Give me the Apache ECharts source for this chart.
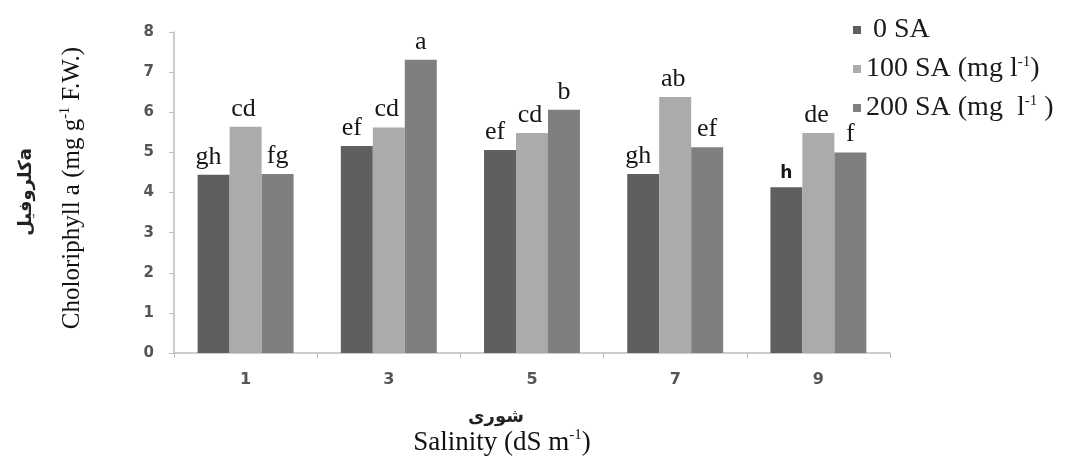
<!DOCTYPE html>
<html>
<head>
<meta charset="utf-8">
<script src="https://cdn.jsdelivr.net/npm/echarts@6/dist/echarts.min.js"></script>
<style>html,body{margin:0;padding:0;background:#fff}#c{width:1076px;height:468px}</style>
</head>
<body>
<div id="c"></div>
<script>
const categories = ['1', '3', '5', '7', '9'];
const seriesNames = ['0 SA', '100 SA (mg l-1)', '200 SA (mg  l-1 )'];
const sa0 = [4.44, 5.16, 5.06, 4.46, 4.13];
const sa100 = [5.64, 5.62, 5.48, 6.38, 5.48];
const sa200 = [4.46, 7.31, 6.06, 5.13, 5.00];
const letters0 = ['gh', 'ef', 'ef', 'gh', 'h'];
const letters100 = ['cd', 'cd', 'cd', 'ab', 'de'];
const letters200 = ['fg', 'a', 'b', 'ef', 'f'];
const yTicks = [0, 1, 2, 3, 4, 5, 6, 7, 8];

const colors = ['#5f5f5f', '#ababab', '#7f7f7f'];
const serif = '"Liberation Serif", "Times New Roman", serif';

function mk(name, vals, letters, color, dx) {
  return {
    name: name, type: 'bar', barGap: '0%', barCategoryGap: '33%',
    itemStyle: { color: color },
    data: vals.map((v, i) => ({ value: v, label: letters[i] === 'h' ? { formatter: letters[i], fontSize: 17, fontWeight: 'bold', fontFamily: '"DejaVu Sans", sans-serif', offset: [0, 0] } : { formatter: letters[i] } })),
    label: { show: true, position: 'top', distance: 5, offset: [dx, 0], color: '#161616', fontFamily: serif, fontSize: 26 }
  };
}

const chart = echarts.init(document.getElementById('c'));
chart.setOption({
  animation: false,
  grid: { left: 174, right: 186, top: 32, bottom: 115 },
  legend: {
    orient: 'vertical', left: 848, top: 11, itemWidth: 8, itemHeight: 8, itemGap: 11,
    icon: 'rect',
    textStyle: { fontFamily: serif, fontSize: 28, color: '#1a1a1a',
      rich: { t: { fontFamily: serif, fontSize: 28, color: '#1a1a1a', lineHeight: 28 },
              s: { fontFamily: serif, fontSize: 15, color: '#1a1a1a', verticalAlign: 'top', lineHeight: 28, padding: [0, 0, 10, 0] } } },
    formatter: function (n) {
      if (n === seriesNames[0]) return '{t|\u00a00 SA}';
      if (n === seriesNames[1]) return '{t|100 SA (mg l}{s|-1}{t|)}';
      return '{t|200 SA (mg  l}{s|-1}{t| )}';
    },
    data: seriesNames
  },
  xAxis: {
    type: 'category', data: categories,
    axisLine: { lineStyle: { color: '#bdbdbd', width: 1.5 } },
    axisTick: { show: true, length: 5, lineStyle: { color: '#bdbdbd' } },
    axisLabel: { fontFamily: '"DejaVu Sans", sans-serif', fontWeight: 'bold', fontSize: 16, color: '#555', margin: 19 }
  },
  yAxis: {
    type: 'value', min: 0, max: 8, interval: 1,
    splitLine: { show: false },
    axisLine: { show: true, lineStyle: { color: '#bdbdbd', width: 1.5 } },
    axisTick: { show: true, length: 5, lineStyle: { color: '#bdbdbd' } },
    axisLabel: { fontFamily: '"DejaVu Sans", sans-serif', fontWeight: 'bold', fontSize: 15, color: '#555', margin: 20,
      formatter: v => yTicks.includes(v) ? String(v) : '' }
  },
  graphic: [
    { type: 'text', x: 496, y: 417, style: { text: 'شوری', align: 'center', verticalAlign: 'middle', font: 'bold 18px "DejaVu Sans", serif', fill: '#222' } },
    { type: 'text', x: 502, y: 443, style: {
      text: '{t|Salinity (dS m}{s|-1}{t|)}', align: 'center', verticalAlign: 'middle',
      rich: { t: { fontFamily: serif, fontSize: 27, fill: '#111', lineHeight: 30 },
              s: { fontFamily: serif, fontSize: 15, fill: '#111', verticalAlign: 'top', lineHeight: 30, padding: [0, 0, 11, 0] } } } },
    { type: 'text', x: 72, y: 188, rotation: Math.PI / 2, style: {
      text: '{t|Choloriphyll a (mg g}{s|-1}{t| F.W.)}', align: 'center', verticalAlign: 'middle',
      rich: { t: { fontFamily: serif, fontSize: 25, fill: '#111', lineHeight: 28 },
              s: { fontFamily: serif, fontSize: 14, fill: '#111', verticalAlign: 'top', lineHeight: 28, padding: [0, 0, 10, 0] } } } },
    { type: 'text', x: 26, y: 192, rotation: Math.PI / 2, style: {
      text: 'کلروفیلa', align: 'center', verticalAlign: 'middle', font: 'bold 18px "DejaVu Sans", serif', fill: '#222' } }
  ],
  series: [
    mk(seriesNames[0], sa0, letters0, colors[0], -5),
    mk(seriesNames[1], sa100, letters100, colors[1], -2),
    mk(seriesNames[2], sa200, letters200, colors[2], 0)
  ]
});
</script>
</body>
</html>
